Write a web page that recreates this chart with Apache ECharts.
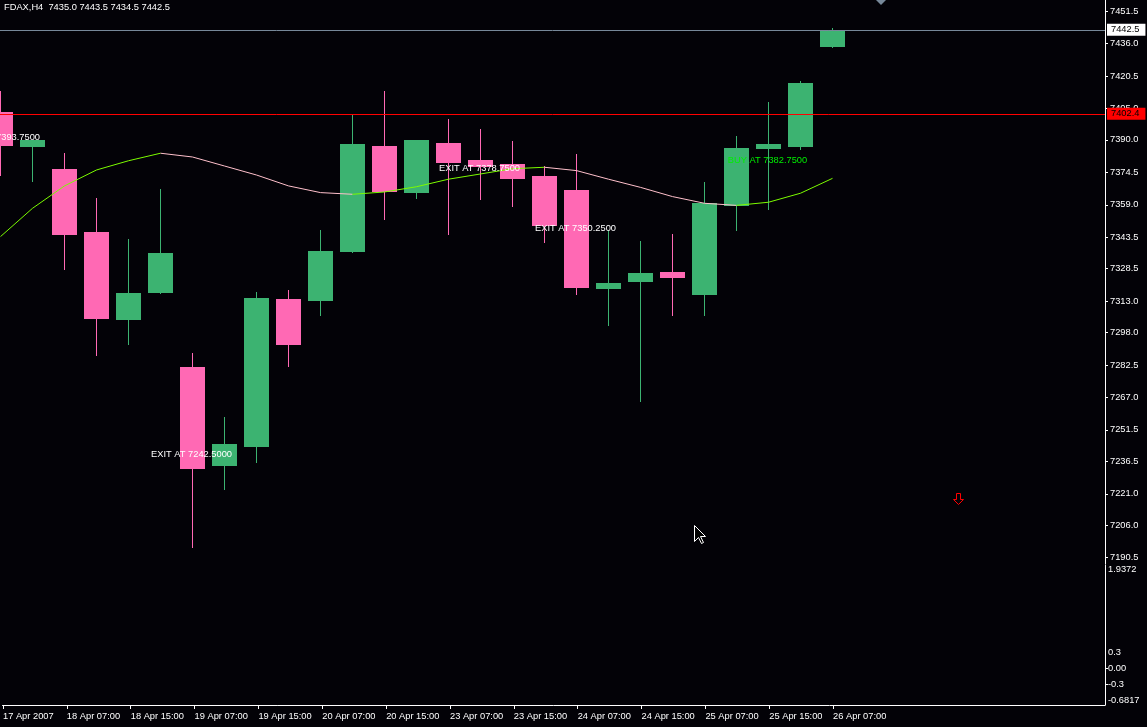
<!DOCTYPE html>
<html><head><meta charset="utf-8">
<script src="https://cdn.jsdelivr.net/npm/echarts@6/dist/echarts.min.js"></script>
<style>html,body{margin:0;padding:0;background:#030207;}#c{width:1147px;height:727px;}</style>
</head><body><div id="c"></div><script>
// ---- data ----
const barTimes = ['17 Apr 15:00','17 Apr 19:00','18 Apr 07:00','18 Apr 11:00','18 Apr 15:00','18 Apr 19:00',
  '19 Apr 07:00','19 Apr 11:00','19 Apr 15:00','19 Apr 19:00','20 Apr 07:00','20 Apr 11:00','20 Apr 15:00',
  '20 Apr 19:00','23 Apr 07:00','23 Apr 11:00','23 Apr 15:00','23 Apr 19:00','24 Apr 07:00','24 Apr 11:00',
  '24 Apr 15:00','24 Apr 19:00','25 Apr 07:00','25 Apr 11:00','25 Apr 15:00','25 Apr 19:00','26 Apr 07:00'];
const opens  = [7403.3,7387.0,7376.1,7346.0,7304.5,7317.4,7281.5,7234.8,7243.8,7314.0,7313.5,7336.9,7387.0,7365.1,
  7388.5,7380.4,7378.5,7372.7,7366.1,7319.3,7322.6,7326.9,7316.4,7358.9,7386.1,7387.0,7435.0];
const highs  = [7413.3,7390.0,7383.7,7362.2,7342.7,7366.5,7288.2,7257.7,7317.4,7318.3,7347.0,7401.9,7413.3,7390.0,
  7399.9,7395.2,7389.4,7377.5,7383.2,7347.0,7341.7,7345.0,7369.9,7391.8,7408.1,7418.1,7443.5];
const lows   = [7373.2,7370.3,7328.3,7287.3,7292.5,7316.9,7195.6,7223.3,7236.2,7282.0,7306.4,7336.5,7352.2,7362.2,
  7345.0,7361.8,7358.4,7341.2,7316.4,7301.6,7265.3,7306.4,7306.4,7347.0,7357.0,7385.6,7434.5];
const closes = [7387.5,7390.0,7345.0,7304.9,7316.9,7336.0,7233.3,7244.8,7314.5,7292.5,7336.9,7388.0,7365.6,7389.9,
  7379.4,7377.5,7371.8,7349.3,7319.7,7321.6,7326.4,7324.5,7359.8,7386.1,7388.0,7417.1,7442.5];
const maValues = [7343.8,7357.3,7368.0,7375.6,7380.0,7383.6,7381.8,7377.5,7373.2,7368.0,7364.8,7364.0,7365.1,7367.6,
  7371.2,7373.7,7376.2,7376.9,7375.3,7371.2,7367.3,7362.9,7359.7,7358.7,7360.2,7364.5,7371.6];
const priceTicks = [7451.5,7436.0,7420.5,7405.0,7390.0,7374.5,7359.0,7343.5,7328.5,7313.0,7298.0,7282.5,7267.0,
  7251.5,7236.5,7221.0,7206.0,7190.5];
const subTicks = [1.9372,0.3,0.0,-0.3,-0.6817];
const timeTickIdx = [0,2,4,6,8,10,12,14,16,18,20,22,24,26];
const timeTickLabels = ['17 Apr 2007','18 Apr 07:00','18 Apr 15:00','19 Apr 07:00','19 Apr 15:00','20 Apr 07:00',
  '20 Apr 15:00','23 Apr 07:00','23 Apr 15:00','24 Apr 07:00','24 Apr 15:00','25 Apr 07:00','25 Apr 15:00','26 Apr 07:00'];
const noteTexts  = ['EXIT AT 7393.7500','EXIT AT 7242.5000','EXIT AT 7378.7500','EXIT AT 7350.2500','BUY AT 7382.7500'];
const noteIdx    = [0,6,15,18,24];
const notePrices = [7393.75,7242.5,7378.75,7350.25,7382.75];
const noteColors = ['#ffffff','#ffffff','#ffffff','#ffffff','#00ee00'];
const arrowIdx = [30];
const arrowPrices = [7218.5];
const bidPrice = 7442.5;
const levelPrice = 7402.4;
const header = 'FDAX,H4  7435.0 7443.5 7434.5 7442.5';

// ---- chart ----
const GREEN = '#3cb371', PINK = '#ff69b4';
const FONT = 'Liberation Sans';
const FS = 9.3;
const xMin = -1/64, xMax = -1/64 + 1105/32;
const candleData = opens.map((o,i)=>[i,o,highs[i],lows[i],closes[i]]);
const maData = maValues.map((v,i)=>[i,v]);
const noteData = noteTexts.map((t,i)=>[noteIdx[i],notePrices[i],i]);
const arrowData = arrowIdx.map((x,i)=>[x,arrowPrices[i]]);

const chart = echarts.init(document.getElementById('c'));
chart.setOption({
  backgroundColor: '#030207',
  animation: false,
  grid: [
    {left:0, top:0, width:1105, height:564},
    {left:0, top:565, width:1105, height:140}
  ],
  xAxis: [
    {type:'value', gridIndex:0, min:xMin, max:xMax, show:false, axisLine:{onZero:false}},
    {type:'value', gridIndex:1, min:xMin, max:xMax,
     axisLine:{show:true, onZero:false, lineStyle:{color:'#ffffff', width:1}},
     axisTick:{show:true, customValues: timeTickIdx, length:4, lineStyle:{color:'#ffffff'}},
     splitLine:{show:false},
     axisLabel:{customValues: timeTickIdx, color:'#ffffff', fontFamily:FONT, fontSize:FS, align:'left', margin:7,
       formatter:(v)=>{const k=timeTickIdx.indexOf(Math.round(v)); return k>=0?timeTickLabels[k]:barTimes[Math.round(v)];}}}
  ],
  yAxis: [
    {type:'value', gridIndex:0, position:'right', min:7451.5-553/2.0946, max:7451.5+11/2.0946, scale:true,
     axisLine:{show:true, onZero:false, lineStyle:{color:'#ffffff'}},
     axisTick:{show:true, customValues: priceTicks, length:3, lineStyle:{color:'#ffffff'}},
     splitLine:{show:false},
     axisLabel:{customValues: priceTicks, color:'#ffffff', fontFamily:FONT, fontSize:FS, margin:5,
       formatter:(v)=>v.toFixed(1)}},
    {type:'value', gridIndex:1, position:'right', min:-0.6817, max:1.9372,
     axisLine:{show:true, onZero:false, lineStyle:{color:'#ffffff'}},
     axisTick:{show:true, customValues:[0,-0.3], length:3, lineStyle:{color:'#ffffff'}},
     splitLine:{show:false},
     axisLabel:{customValues: subTicks, color:'#ffffff', fontFamily:FONT, fontSize:FS, margin:3,
       formatter:(v)=>{
         if (Math.abs(v-subTicks[0])<1e-6) return '{t|'+v.toFixed(4)+'}';
         if (Math.abs(v-subTicks[4])<1e-6) return '{b|'+v.toFixed(4)+'}';
         if (Math.abs(v)<1e-9) return '0.00';
         return v.toFixed(1);
       },
       rich:{t:{padding:[9,0,0,0], color:'#ffffff', fontFamily:FONT, fontSize:FS},
             b:{padding:[0,0,10,0], color:'#ffffff', fontFamily:FONT, fontSize:FS}}}}
  ],
  series: [
    {
      type:'custom', name:'candles', xAxisIndex:0, yAxisIndex:0, data:candleData,
      encode:{x:0, y:[1,2,3,4]}, z:3,
      renderItem:(params, api)=>{
        const i=api.value(0), o=api.value(1), h=api.value(2), l=api.value(3), c=api.value(4);
        const pO=api.coord([i,o]), pC=api.coord([i,c]), pH=api.coord([i,h]), pL=api.coord([i,l]);
        const x=pO[0];
        const col = c>=o ? GREEN : PINK;
        const hw = api.size([1,0])[0]*25/64;
        const top=Math.round(Math.min(pO[1],pC[1])), bot=Math.round(Math.max(pO[1],pC[1]));
        return {type:'group', children:[
          {type:'line', shape:{x1:x,y1:Math.round(pH[1]),x2:x,y2:Math.round(pL[1])+1}, style:{stroke:col, lineWidth:1}},
          {type:'rect', shape:{x:x-hw, y:top, width:hw*2, height:Math.max(2,bot-top+1)}, style:{fill:col}}
        ]};
      },
      markLine:{
        silent:true, symbol:['none','none'], animation:false,
        data:[
          {yAxis:bidPrice, lineStyle:{color:'#778899', width:1, type:'solid'},
           label:{show:true, position:'end', distance:2, formatter:bidPrice.toFixed(1), color:'#000000',
             backgroundColor:'#ffffff', padding:[2,6,1,4], fontFamily:FONT, fontSize:FS}},
          {yAxis:levelPrice, lineStyle:{color:'#ff0000', width:1, type:'solid'},
           label:{show:true, position:'end', distance:2, formatter:levelPrice.toFixed(1), color:'#000000',
             backgroundColor:'#ff0000', padding:[2,6,1,4], fontFamily:FONT, fontSize:FS}}
        ]
      }
    },
    {
      type:'custom', name:'ma', xAxisIndex:0, yAxisIndex:0, data:maData, encode:{x:0,y:1}, z:4,
      renderItem:(params, api)=>{
        const i=params.dataIndex;
        if (i===0) return null;
        const p0=api.coord([i-1, maValues[i-1]]), p1=api.coord([i, api.value(1)]);
        const col = maValues[i]>=maValues[i-1] ? '#7cfc00' : '#ffc0cb';
        return {type:'line', shape:{x1:p0[0],y1:p0[1],x2:p1[0],y2:p1[1]}, style:{stroke:col, lineWidth:1}};
      }
    },
    {
      type:'custom', name:'notes', xAxisIndex:0, yAxisIndex:0, data:noteData, encode:{x:0,y:1}, z:6,
      renderItem:(params, api)=>{
        const k=api.value(2);
        const p=api.coord([api.value(0), api.value(1)]);
        return {type:'text', x:p[0]-1, y:p[1]+1, style:{text:noteTexts[k], fill:noteColors[k],
          font:FS+'px "'+FONT+'"', align:'center', verticalAlign:'top'}};
      }
    },
    {
      type:'custom', name:'arrow', xAxisIndex:0, yAxisIndex:0, data:arrowData, encode:{x:0,y:1}, z:6,
      renderItem:(params, api)=>{
        const p=api.coord([api.value(0), api.value(1)]);
        const cx=Math.round(p[0])-2.5, cy=Math.round(p[1])+0.5;
        return {type:'polygon', shape:{points:[[cx-2,cy-6],[cx+2,cy-6],[cx+2,cy],[cx+5,cy],[cx,cy+5],[cx-5,cy],[cx-2,cy]]},
          style:{stroke:'#ff0000', fill:null, lineWidth:1}};
      }
    }
  ],
  graphic:[
    {type:'text', left:4, top:3, style:{text:header, fill:'#ffffff', font:FS+'px "'+FONT+'"'}},
    {type:'polygon', shape:{points:[[876,0],[886,0],[881,5]]}, style:{fill:'#778899'}},
    {type:'polygon', shape:{points:[[694.5,525.5],[694.5,541.5],[698.5,537.5],[701.5,543.5],[703.5,542.5],[700.5,536.5],[705.5,536.5]]},
     style:{fill:'#000000', stroke:'#ffffff', lineWidth:1}, z:10}
  ]
});
</script></body></html>
